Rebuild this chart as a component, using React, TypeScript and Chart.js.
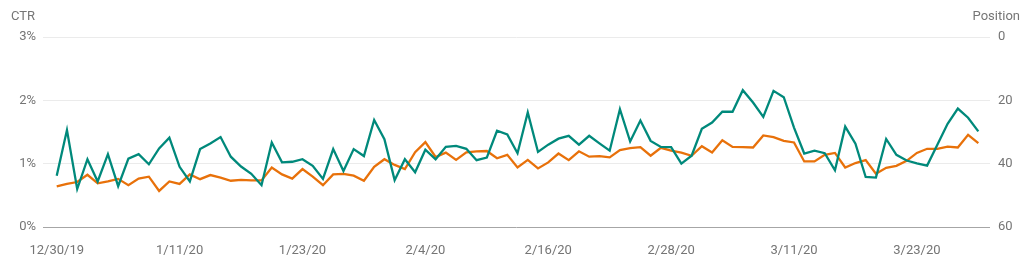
import React, { useEffect, useRef } from "react";
import { Chart, registerables } from "chart.js";

Chart.register(...registerables);

// Daily values, 12/30/19 .. 3/29/20 (91 days)
const ctrValues: number[] = [
  0.81, 1.53, 0.6, 1.07, 0.72, 1.15, 0.645, 1.08, 1.15, 0.99,
  1.24, 1.41, 0.95, 0.72, 1.23, 1.32, 1.42, 1.11, 0.955, 0.84,
  0.66, 1.335, 1.02, 1.03, 1.07, 0.965, 0.76, 1.23, 0.885, 1.23,
  1.12, 1.69, 1.385, 0.74, 1.07, 0.865, 1.22, 1.07, 1.265, 1.28,
  1.235, 1.055, 1.095, 1.52, 1.46, 1.165, 1.81, 1.185, 1.3, 1.395,
  1.44, 1.3, 1.44, 1.32, 1.205, 1.86, 1.35, 1.68, 1.36, 1.265,
  1.26, 1.0, 1.125, 1.55, 1.65, 1.82, 1.82, 2.16, 1.965, 1.74,
  2.15, 2.05, 1.57, 1.16, 1.205, 1.165, 0.895, 1.585, 1.315, 0.79,
  0.78, 1.39, 1.14, 1.05, 1.005, 0.97, 1.3, 1.63, 1.87, 1.725,
  1.51,
];

const positionValues: number[] = [
  47.2, 46.4, 45.8, 43.5, 46.2, 45.6, 44.8, 46.8, 44.7, 44.1,
  48.6, 45.6, 46.4, 43.4, 44.9, 43.6, 44.4, 45.4, 45.1, 45.3,
  45.3, 41.2, 43.4, 44.7, 41.7, 44.1, 46.8, 43.4, 43.2, 43.8,
  45.4, 41.0, 38.6, 40.4, 41.7, 36.4, 33.2, 37.9, 36.5, 38.8,
  36.4, 36.1, 36.0, 38.3, 37.2, 41.2, 38.8, 41.5, 39.6, 36.8,
  38.9, 36.1, 37.8, 37.6, 38.0, 35.7, 35.1, 34.8, 37.5, 35.0,
  35.9, 36.5, 37.5, 34.5, 36.5, 32.6, 34.7, 34.8, 34.9, 31.1,
  31.6, 32.8, 33.3, 39.3, 39.3, 37.2, 36.6, 41.2, 39.8, 38.9,
  43.2, 41.3, 40.7, 39.1, 36.6, 35.3, 35.3, 34.6, 34.9, 30.9,
  33.5,
];

const tickDayIndex: number[] = [0, 12, 24, 36, 48, 60, 72, 84];
const tickLabels: string[] = [
  "12/30/19", "1/11/20", "1/23/20", "2/4/20", "2/16/20", "2/28/20", "3/11/20", "3/23/20",
];

const FONT = "Roboto, 'Noto Sans', sans-serif";
const TEXT = "#757575";

const titlesPlugin = {
  id: "axisTitles",
  afterDraw(chart: any) {
    const ctx = chart.ctx;
    ctx.save();
    ctx.font = `13px ${FONT}`;
    ctx.fillStyle = TEXT;
    ctx.textBaseline = "middle";
    ctx.textAlign = "left";
    ctx.fillText("CTR", 11, 17);
    ctx.textAlign = "right";
    ctx.fillText("Position", 1020, 17);
    ctx.restore();
  },
};

export default function App() {
  const ref = useRef<HTMLCanvasElement | null>(null);

  useEffect(() => {
    if (!ref.current) return;
    const chart = new Chart(ref.current, {
      type: "line",
      data: {
        datasets: [
          {
            label: "CTR",
            data: ctrValues.map((v, i) => ({ x: i, y: v })),
            borderColor: "#00897b",
            borderWidth: 2.3,
            pointRadius: 0,
            tension: 0,
            yAxisID: "y",
          },
          {
            label: "Position",
            data: positionValues.map((v, i) => ({ x: i, y: v })),
            borderColor: "#e8710a",
            borderWidth: 2.3,
            pointRadius: 0,
            tension: 0,
            yAxisID: "y1",
          },
        ],
      },
      options: {
        responsive: false,
        animation: false,
        layout: { padding: { top: 37, left: 0, right: 0, bottom: 0 } },
        plugins: {
          legend: { display: false },
          tooltip: { enabled: false },
        },
        scales: {
          x: {
            type: "linear",
            min: -1.34,
            max: 91.14,
            grid: { display: false },
            border: { display: false },
            afterBuildTicks: (scale: any) => {
              scale.ticks = tickDayIndex.map((v) => ({ value: v }));
            },
            afterFit: (scale: any) => {
              scale.height = 33;
            },
            ticks: {
              autoSkip: false,
              maxRotation: 0,
              padding: 8,
              color: TEXT,
              font: { family: FONT, size: 13 },
              callback: (value: any) => {
                const k = tickDayIndex.indexOf(Number(value));
                return k >= 0 ? tickLabels[k] : "";
              },
            },
          },
          y: {
            position: "left",
            min: 0,
            max: 3,
            afterFit: (scale: any) => {
              scale.width = 43;
            },
            ticks: {
              stepSize: 1,
              padding: 7,
              color: TEXT,
              font: { family: FONT, size: 13 },
              callback: (v: any) => `${v}%`,
            },
            grid: {
              drawTicks: false,
              color: (c: any) => (c.tick && c.tick.value === 0 ? "#a6a6a6" : "#ebebeb"),
              lineWidth: 1,
            },
            border: { display: false },
          },
          y1: {
            position: "right",
            min: 0,
            max: 60,
            reverse: true,
            afterFit: (scale: any) => {
              scale.width = 34;
            },
            ticks: {
              stepSize: 20,
              padding: 8,
              color: TEXT,
              font: { family: FONT, size: 13 },
            },
            grid: { display: false, drawTicks: false },
            border: { display: false },
          },
        },
      },
      plugins: [titlesPlugin],
    } as any);
    return () => chart.destroy();
  }, []);

  return (
    <div style={{ position: "fixed", left: 0, top: 0, width: 1024, height: 260, background: "#fff" }}>
      <canvas ref={ref} width={1024} height={260} style={{ display: "block" }} />
    </div>
  );
}
